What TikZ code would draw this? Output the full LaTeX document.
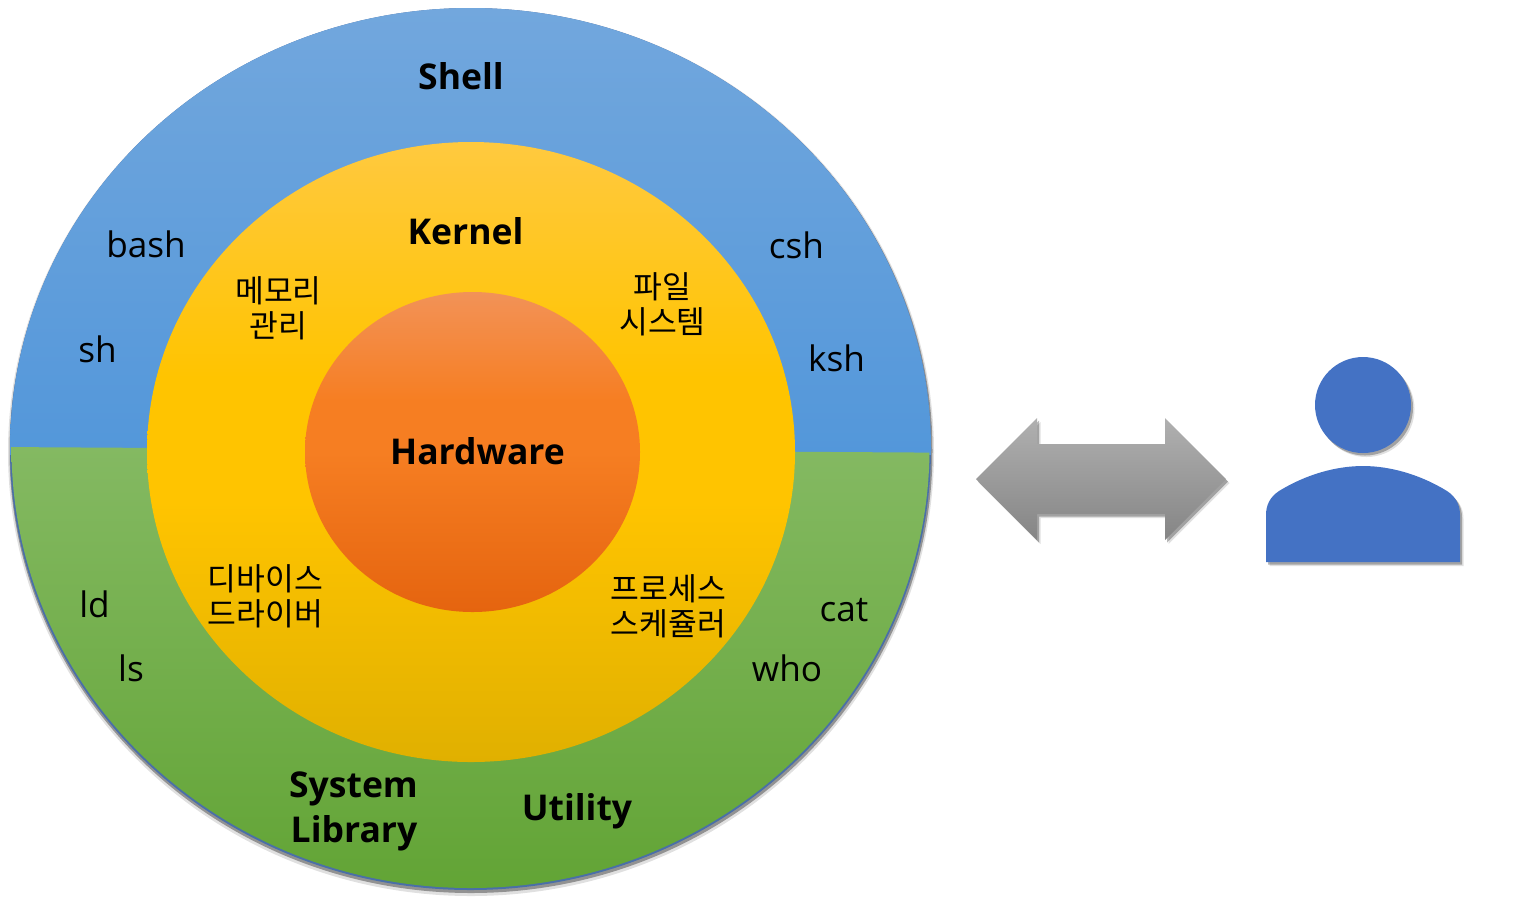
\documentclass[tikz,border=0pt]{standalone}
\usepackage{fontspec}
\setmainfont{Open Sans}
\newfontfamily\krfont{Noto Sans CJK KR}
\usetikzlibrary{shadows}
\definecolor{shellTop}{HTML}{72A7DD}
\definecolor{shellBot}{HTML}{5397DA}
\definecolor{shellEdge}{HTML}{4A6FA8}
\definecolor{utilTop}{HTML}{84B962}
\definecolor{utilBot}{HTML}{62A435}
\definecolor{kernTop}{HTML}{FFC93F}
\definecolor{kernMid}{HTML}{FFC400}
\definecolor{kernBot}{HTML}{E0B000}
\definecolor{hwTop}{HTML}{F29257}
\definecolor{hwMid}{HTML}{F67E22}
\definecolor{hwBot}{HTML}{E5640F}
\definecolor{arrowTop}{HTML}{B0B0B0}
\definecolor{arrowBot}{HTML}{858585}
\definecolor{userBlue}{HTML}{4472C4}
\pgfdeclareverticalshading{kernshade}{100bp}{color(0bp)=(kernBot);color(25bp)=(kernBot);color(46bp)=(kernMid);color(56bp)=(kernMid);color(75bp)=(kernTop);color(100bp)=(kernTop)}
\pgfdeclareverticalshading{hwshade}{100bp}{color(0bp)=(hwBot);color(25bp)=(hwBot);color(50bp)=(hwMid);color(58bp)=(hwMid);color(75bp)=(hwTop);color(100bp)=(hwTop)}
\tikzset{
  softshadow/.style={
    drop shadow={shadow xshift=0.035cm,shadow yshift=-0.04cm,fill=black,opacity=0.12},
    drop shadow={shadow xshift=0.02cm,shadow yshift=-0.025cm,fill=black,opacity=0.28}},
  ringlabel/.style={anchor=base,inner sep=0pt,font=\fontsize{10}{12.8}\selectfont,align=center},
  titlelabel/.style={ringlabel,font=\fontsize{10.1}{12.8}\selectfont\bfseries},
  krlabel/.style={inner sep=0pt,align=center,font=\fontsize{8.9}{10}\selectfont\krfont}
}
\begin{document}
\begin{tikzpicture}[x=0.01cm,y=-0.01cm]
      \useasboundingbox (0,0) rectangle (1521,902);
      % outer ring
      \fill[black,opacity=0.12] (471,452) ellipse (463 and 444);
      \fill[black,opacity=0.35] (471,451) ellipse (461.5 and 442);
      \fill[shellEdge] (470.5,449) ellipse (460.5 and 441);
      \begin{scope}
        \clip (470.5,449) ellipse (460.5 and 441);
        \shade[top color=shellTop,bottom color=shellBot] (0,8) -- (1000,8) -- (1000,454) -- (0,454) -- cycle;
        \clip (470.5,448) ellipse (459 and 440);
        \shade[top color=utilTop,bottom color=utilBot] (0,447) -- (1000,453) -- (1000,890) -- (0,890) -- cycle;
      \end{scope}
      % inner discs
      \shade[shading=kernshade] (471,452) ellipse (324 and 310);
      \shade[shading=hwshade] (472.5,452) ellipse (167.5 and 160);
      % arrow
      \shade[top color=arrowTop,bottom color=arrowBot,softshadow] (976,479) -- (1037,418) -- (1037,444) -- (1165,444) -- (1165,418) -- (1226,479)
        -- (1165,540) -- (1165,514) -- (1037,514) -- (1037,540) -- cycle;
      % user
      \fill[userBlue,softshadow] (1363,405) circle (48);
      \fill[userBlue,softshadow] (1266,562) -- (1266,515) .. controls (1266,505) and (1270,497) .. (1279,491)
        .. controls (1305,475) and (1335,466) .. (1363,466) .. controls (1391,466) and (1421,475) .. (1447,491)
        .. controls (1456,497) and (1460,505) .. (1460,515) -- (1460,562) -- cycle;
      % titles
      \node[titlelabel] (shell) at (461,89) {Shell};
      \node[titlelabel] (kernel) at (465.5,244) {Kernel};
      \node[titlelabel] (hardware) at (477.5,464) {Hardware};
      \node[titlelabel] (system) at (353.5,797) {System};
      \node[titlelabel] (library) at (354,842) {Library};
      \node[titlelabel] (utility) at (577,820) {Utility};
      % shells
      \node[ringlabel] (bash) at (146,257) {bash};
      \node[ringlabel] (csh) at (796.5,258) {csh};
      \node[ringlabel] (sh) at (97.5,362) {sh};
      \node[ringlabel] (ksh) at (836.5,371) {ksh};
      % tools
      \node[ringlabel] (ld) at (94.5,617) {ld};
      \node[ringlabel] (ls) at (131,681) {ls};
      \node[ringlabel] (cat) at (844,621) {cat};
      \node[ringlabel] (who) at (787,681) {who};
      % kernel parts
      \node[krlabel] (memory) at (278.5,308.5) {메모리\\관리};
      \node[krlabel] (files) at (662.5,304.5) {파일\\시스템};
      \node[krlabel] (device) at (265.5,596.5) {디바이스\\드라이버};
      \node[krlabel] (sched) at (668.5,606.5) {프로세스\\스케쥴러};
    \end{tikzpicture}
\end{document}
